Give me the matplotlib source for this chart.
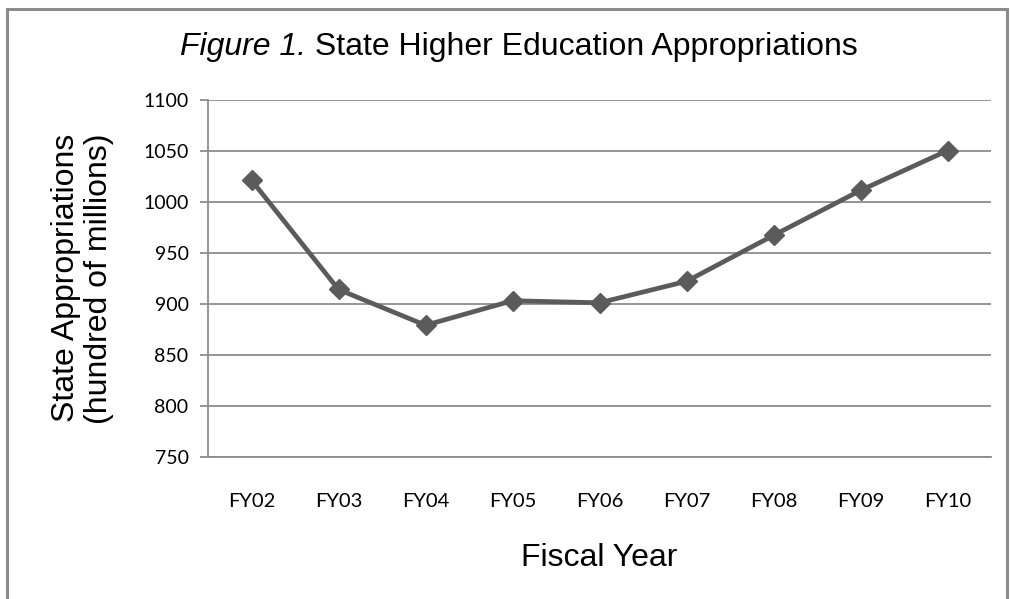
import matplotlib
matplotlib.use("Agg")
import matplotlib.pyplot as plt
from matplotlib.patches import Rectangle

years = ["FY02", "FY03", "FY04", "FY05", "FY06", "FY07", "FY08", "FY09", "FY10"]
appropriations = [1021, 914, 879, 903, 901, 922, 967, 1011, 1050]
y_ticks = [750, 800, 850, 900, 950, 1000, 1050, 1100]

W, H = 1010, 599
fig = plt.figure(figsize=(W / 100, H / 100), dpi=100)
fig.patch.set_facecolor("white")

# outer chart border
fig.add_artist(Rectangle((7 / W, -0.05), (1007 - 7) / W, 1.05 - 9 / H,
                         transform=fig.transFigure, fill=False,
                         edgecolor="#8c8c8c", linewidth=2.2))

left, right, top, bottom = 208, 991, 99.5, 457
ax = fig.add_axes([left / W, 1 - bottom / H, (right - left) / W, (bottom - top) / H])

x = list(range(len(years)))
ax.plot(x, appropriations, color="#5b5b5b", linewidth=3.4, marker="D",
        markersize=10.5, markerfacecolor="#5b5b5b", markeredgecolor="#5b5b5b",
        solid_joinstyle="miter", zorder=3)

ax.set_xlim(-0.5, len(years) - 0.5)
ax.set_ylim(750, 1100)
ax.set_yticks(y_ticks)
ax.set_yticklabels([str(v) for v in y_ticks], fontfamily="Lato", fontsize=14)
ax.set_xticks(x)
ax.set_xticklabels(years, fontfamily="Lato", fontsize=14.5)

ax.grid(axis="y", color="#8c8c8c", linewidth=1.3)
ax.set_axisbelow(True)
for s in ["top", "right"]:
    ax.spines[s].set_visible(False)
ax.spines["left"].set_color("#8c8c8c")
ax.spines["left"].set_linewidth(1.3)
ax.spines["bottom"].set_color("#8c8c8c")
ax.spines["bottom"].set_linewidth(1.3)
ax.tick_params(axis="y", direction="out", length=6, width=1.3, color="#8c8c8c",
               pad=8, labelcolor="black")
ax.tick_params(axis="x", length=0, pad=26, labelcolor="black")

ax.set_ylabel("State Appropriations\n(hundred of millions)", fontsize=23,
              fontfamily="Liberation Sans", labelpad=21, linespacing=1.15)
ax.set_xlabel("Fiscal Year", fontsize=23, fontfamily="Liberation Sans", labelpad=24)

# title: italic part + regular part, laid out together and centred
title_y = 1 - 47 / H
t1 = fig.text(0, title_y, "Figure 1.", ha="left", va="center", fontsize=23,
              fontfamily="Liberation Sans", fontstyle="italic")
t2 = fig.text(0, title_y, " State Higher Education Appropriations", ha="left",
              va="center", fontsize=23, fontfamily="Liberation Sans")
fig.canvas.draw()
r = fig.canvas.get_renderer()
w1 = t1.get_window_extent(r).width
w2 = t2.get_window_extent(r).width
cx = 519
x0 = cx - (w1 + w2) / 2
t1.set_x(x0 / W)
t2.set_x((x0 + w1) / W)

fig.savefig("out.png", dpi=100, facecolor="white")
